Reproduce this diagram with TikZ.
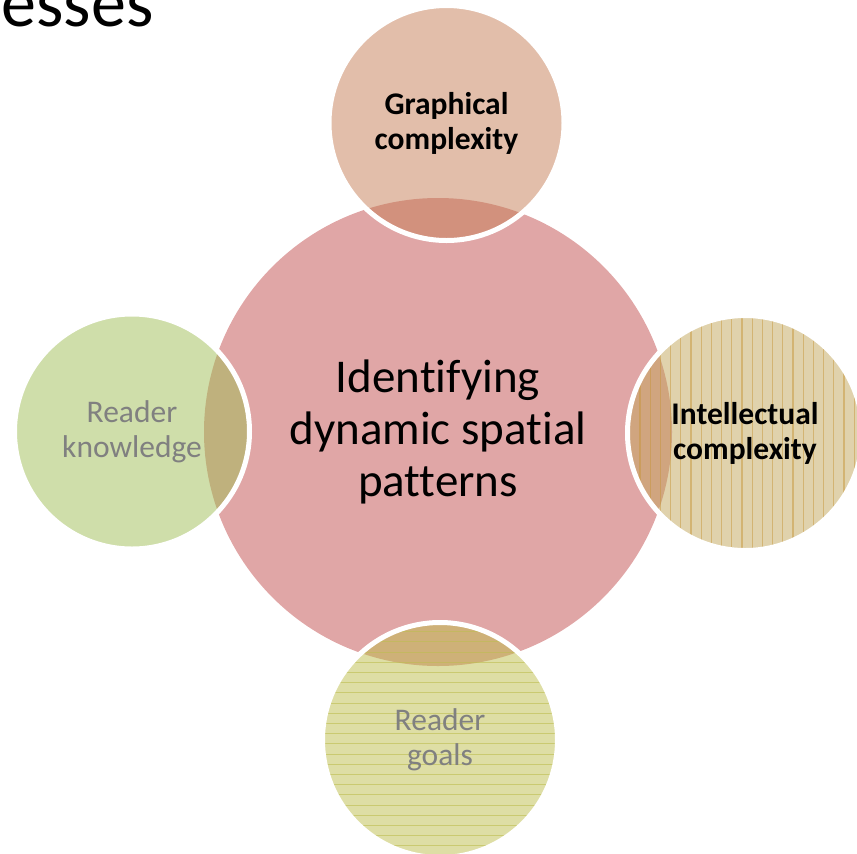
\documentclass[tikz,border=0pt]{standalone}
\usepackage{fontspec}
\setmainfont{Carlito}[Ligatures = NoCommon]
\usepackage{tikz}

\definecolor{hubpink}{RGB}{224,166,166}
\definecolor{graphfill}{RGB}{197,125,85}
\definecolor{intelfill}{RGB}{193,165,89}
\definecolor{knowfill}{RGB}{159,189,85}
\definecolor{goalfill}{RGB}{189,189,75}
\definecolor{intelline}{RGB}{200,150,60}
\definecolor{goalline}{RGB}{190,190,80}
\definecolor{softgray}{RGB}{128,128,128}

\begin{document}
\begin{tikzpicture}[x = 1pt, y = -1pt]
    \tikzstyle{petal} = [circle, minimum size = 235pt, inner sep = 0pt, draw = white, line width = 5pt, fill opacity = 0.5, text opacity = 1, align = center, font = \fontsize{31.5}{35}\selectfont]
    \tikzstyle{boldtext} = [font = \fontsize{31.5}{35}\selectfont\bfseries]
    \tikzstyle{vstripes} = [path picture = {\foreach \k in {0,...,22} \draw[intelline, draw opacity = 0.5, line width = 1.1pt] ([xshift = -105pt + 10.2pt*\k]path picture bounding box.north) -- ([xshift = -105pt + 10.2pt*\k]path picture bounding box.south);}]
    \tikzstyle{hstripes} = [path picture = {\foreach \k in {0,...,23} \draw[goalline, draw opacity = 0.6, line width = 1.1pt] ([yshift = 118.5pt - 10.2pt*\k]path picture bounding box.west) -- ([yshift = 118.5pt - 10.2pt*\k]path picture bounding box.east);}]

    \useasboundingbox (0, 0) rectangle (857, 854);

    \node[anchor = base west, inner sep = 0pt, font = \fontsize{70}{84}\selectfont] (title) at (1.5, 26) {esses};

    \node[circle, fill = hubpink, minimum size = 468pt, inner sep = 0pt, align = center, font = \fontsize{47}{52}\selectfont] (hub) at (438, 432) {Identifying\\dynamic spatial\\patterns};

    \node[petal, boldtext, fill = graphfill] (graphical) at (446.5, 123) {Graphical\\complexity};
    \node[petal, boldtext, vstripes, fill = intelfill] (intellectual) at (745, 433) {Intellectual\\complexity};
    \node[petal, text = softgray, fill = knowfill] (knowledge) at (132, 431.5) {Reader\\knowledge};
    \node[petal, text = softgray, hstripes, fill = goalfill] (goals) at (440, 740) {Reader\\goals};
\end{tikzpicture}
\end{document}
